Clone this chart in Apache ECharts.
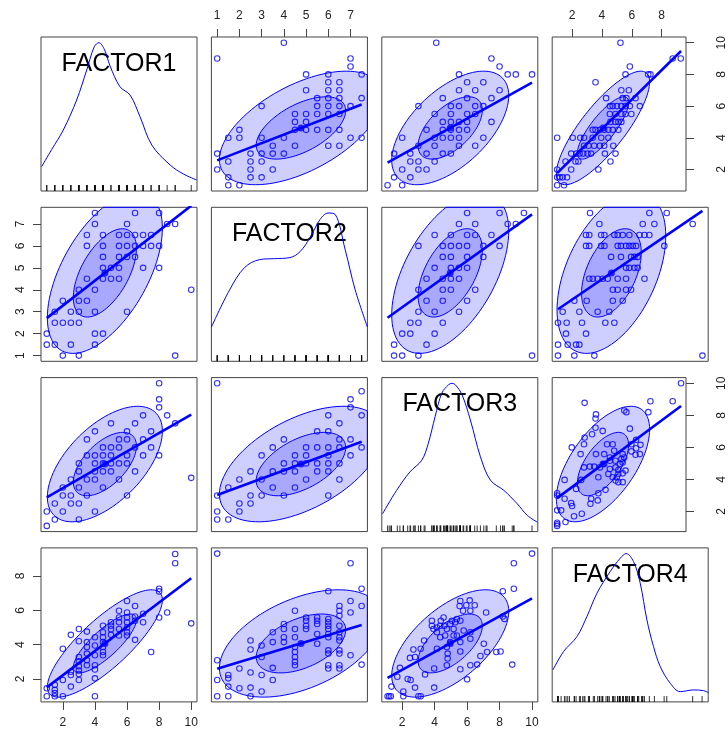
<!DOCTYPE html>
<html><head><meta charset="utf-8">
<script src="https://cdn.jsdelivr.net/npm/echarts@6/dist/echarts.min.js"></script>
<style>html,body{margin:0;padding:0;background:#fff}#c{width:728px;height:736px}</style>
</head><body><div id="c"></div>
<script>
// ---------------- data ----------------
const varNames = ['FACTOR1', 'FACTOR2', 'FACTOR3', 'FACTOR4'];
const varMin = [1, 1, 1.1, 1];
const varMax = [10, 7.5, 10, 9.3];
const varMean = [4.62, 4.77, 4.96, 4.07];
const varSd = [1.67, 1.71, 1.68, 1.456];
// correlations: 1-2, 1-3, 1-4, 2-3, 2-4, 3-4
const corrPairs = [[0, 1], [0, 2], [0, 3], [1, 2], [1, 3], [2, 3]];
const corrValues = [0.556, 0.57, 0.81, 0.52, 0.46, 0.60];
const ellipseLevels = [0.5, 0.9];

const ticks1 = [2, 4, 6, 8, 10];
const ticks2 = [1, 2, 3, 4, 5, 6, 7];
const ticks3 = [2, 4, 6, 8, 10];
const ticks4 = [2, 4, 6, 8];

// density curves (relative height, peak = 1)
const dens1X = [0.68, 1.3, 2.03, 2.86, 3.49, 3.96, 4.25, 4.6, 4.94, 5.56, 6.19, 6.81, 7.54, 8.68, 9.5, 10.34];
const dens1Y = [0.131, 0.25, 0.388, 0.598, 0.809, 0.972, 1.0, 0.95, 0.838, 0.691, 0.633, 0.481, 0.283, 0.143, 0.08, 0.037];
const dens2X = [0.74, 1.56, 2.23, 2.91, 3.59, 4.27, 4.73, 5.18, 5.63, 5.99, 6.31, 6.76, 7.21, 7.76];
const dens2Y = [0.20, 0.461, 0.617, 0.673, 0.680, 0.687, 0.729, 0.828, 0.955, 1.0, 0.99, 0.743, 0.461, 0.20];
const dens3X = [0.79, 1.655, 2.48, 3.21, 3.61, 4.03, 4.445, 4.86, 5.06, 5.27, 5.685, 6.2, 6.82, 7.44, 8.265, 9.09, 9.715, 10.335];
const dens3Y = [0.085, 0.249, 0.379, 0.461, 0.579, 0.767, 0.932, 0.99, 1.0, 0.99, 0.92, 0.743, 0.485, 0.32, 0.249, 0.155, 0.073, 0.026];
const dens4X = [0.71, 1.32, 2.09, 2.66, 3.24, 4.0, 4.58, 4.92, 5.34, 5.725, 6.11, 6.49, 6.875, 7.45, 8.02, 8.79, 9.36, 9.65];
const dens4Y = [0.184, 0.313, 0.418, 0.558, 0.722, 0.874, 0.968, 1.0, 0.944, 0.793, 0.535, 0.348, 0.208, 0.091, 0.032, 0.044, 0.039, 0.025];

// pairwise observations [first var, second var]
const pts12 = [[4,7.5],[6.5,7.5],[8,7.5],[4,7],[6,7],[8.5,7],[9,7],
[3.5,6.5],[4.5,6.5],[5.5,6.5],[6,6.5],[6.5,6.5],[7,6.5],[7.5,6.5],
[3.5,6],[4.5,6],[5.5,6],[6,6],[6.5,6],[7,6],[7.5,6],[8,6],
[4.5,5.5],[5.5,5.5],[6,5.5],[6.5,5.5],
[4.5,5],[5,5],[5.5,5],[7,5],[8,5],
[3.5,4.5],[4.5,4.5],[5,4.5],[5.5,4.5],
[3,4],[4,4],[10,4],
[2,3.5],[3,3.5],[3.5,3.5],
[1.5,3],[2.5,3],[3,3],[4,3],[6,3],
[1.5,2.5],[2,2.5],[2.5,2.5],[3,2.5],
[1,2],[4,2],[4.5,2],
[1,1.5],[1.5,1.5],[2.5,1.5],[4,1.5],
[2,1],[3,1],[9,1]];

const pts13 = [[1,1.1],[1,2.0],[1.5,1.5],[1.5,2.5],[2,2.0],[2,3.0],[2,3.5],[2.5,2.5],[2.5,3.0],[2.5,4.0],
[3,1.5],[3,2.5],[3,3.5],[3,4.5],[3,5.0],[3.5,3.0],[3.5,4.0],[3.5,5.5],[3.5,6.5],[4,2.0],[4,4.0],[4,4.5],
[4,5.0],[4,5.5],[4,7.0],[4.5,3.5],[4.5,4.5],[4.5,5.0],[4.5,5.5],[4.5,6.0],[5,4.5],[5,5.0],[5,5.5],[5,6.0],
[5,7.5],[5.5,4.0],[5.5,5.0],[5.5,6.0],[5.5,6.5],[6,3.0],[6,5.0],[6,5.5],[6,6.5],[6,7.0],[6.5,4.5],[6.5,6.0],
[6.5,7.5],[7,5.5],[7,6.5],[7,8.0],[7.5,6.0],[7.5,7.0],[8,5.5],[8,8.5],[8,9.0],[8,10],[8.5,8.0],[9,7.5],[10,4.1]];

const pts14 = [[9,9.28],[9,8.74],[8,7.25],[8,7.1],[6,6.54],[8.5,5.87],[8,5.58],[10,5.24],[7.5,3.57],[5.5,5.97],
[6.5,6.25],[7,5.8],[7,5.3],[6.5,5.64],[6.5,5.39],[6,5.87],[6,5.58],[6,5.3],[6,5.0],[6,4.72],[6,4.53],[6.5,4.28],
[5.5,5.58],[5.5,5.3],[5.5,4.91],[5.5,4.53],[5,5.3],[5,5.1],[5,4.9],[5,4.57],[4.5,5.1],[4.5,4.72],[4.5,4.43],
[4.5,4.15],[4.5,3.86],[4.5,3.57],[4.5,3.38],[4,4.43],[4,3.95],[4,3.38],[4,2.8],[4,2.55],[4,2.04],[4,1.0],
[3.5,4.76],[3.5,4.15],[3.5,3.86],[3.5,3.48],[3.5,3.1],[3.5,2.8],[3,4.91],[3,4.2],[3,3.28],[3,3.03],[3,2.75],
[3,2.5],[3,2.29],[3,1.94],[2.5,4.57],[2.5,2.42],[2.5,2.23],[2.5,1.56],[2,3.76],[2,1.94],[2,1.0],[1.5,1.66],
[1.5,1.37],[1.5,1.18],[1.5,1.0],[1,1.46],[1,1.0]];

const pts23 = [[1,10],[1,2.0],[1,1.5],[1,3.0],[1.5,1.5],[1.5,3.5],[2,2.5],[2,2.0],[2,4.0],[2.5,2.5],[2.5,3.0],
[2.5,4.5],[3,3.0],[3,4.0],[3,5.5],[3.5,3.5],[3.5,4.5],[3.5,6.0],[4,3.0],[4,4.5],[4,5.0],[4,6.5],[4.5,3.5],
[4.5,4.5],[4.5,5.0],[4.5,5.5],[5,4.0],[5,5.0],[5,5.5],[5,6.0],[5.5,4.5],[5.5,5.0],[5.5,6.0],[5.5,7.0],[6,3.0],
[6,4.5],[6,5.0],[6,5.5],[6,6.0],[6,7.0],[6,8.0],[6.5,4.0],[6.5,5.0],[6.5,6.0],[6.5,6.5],[6.5,7.5],[7,5.5],
[7,6.5],[7,8.5],[7,9.0],[7.5,6.0],[7.5,8.0],[7.5,9.5]];

const pts24 = [[1,9.3],[7,8.74],[7.5,7.25],[7,6.54],[7,5.87],[7.5,6.25],[6,7.11],[6.5,6.25],[6.5,5.97],[6.5,5.68],
[6.5,5.1],[6.5,4.72],[6.5,4.43],[6.5,4.24],[6.5,3.67],[6.5,3.48],[6.5,2.8],[6.5,2.61],[7,3.38],[7.5,2.84],[6,5.49],
[6,5.3],[6,5.1],[6,4.91],[6,4.62],[6,4.43],[6,3.67],[6,3.48],[6,2.8],[6,2.61],[5.5,5.58],[5.5,5.39],[5.5,5.2],
[5.5,4.62],[5.5,4.05],[5,5.58],[5,5.39],[5,5.1],[5,4.91],[4.5,5.97],[4.5,4.91],[4.5,4.43],[4.5,3.86],[4.5,3.57],
[4.5,3.28],[4.5,3.0],[4.5,2.8],[4,5.2],[4,4.91],[4,4.43],[4,4.15],[3.5,4.72],[3.5,4.15],[3.5,2.65],[3.5,1.94],
[3,3.95],[3,3.28],[3,2.23],[3,1.27],[2.5,4.24],[2.5,3.72],[2.5,2.38],[2.5,1.5],[2.5,1.0],[2,2.61],[2,1.46],
[1.5,2.23],[1.5,2.04],[1.5,1.56],[1.5,1.0],[1,3.09],[1,1.94],[1,1.0]];

const pts34 = [[10,9.3],[8.88,8.74],[8.88,7.25],[8.2,7.11],[8.78,2.84],[8.2,5.64],[8.3,5.5],[7.8,3.57],[8.06,3.6],
[7.17,5.87],[7.23,3.57],[7.03,4.05],[6.82,3.34],[6.62,2.84],[6.2,2.8],[6.0,1.98],[6.16,6.58],[5.95,6.29],[6.47,6.29],
[6.2,5.97],[5.75,5.97],[5.58,4.15],[5.58,3.6],[5.58,2.57],[4.8,3.48],[4.8,3.19],[4.75,2.8],[3.97,2.61],[3.97,1.5],
[3.41,2.27],[3.14,1.0],[3.0,1.0],[2.79,1.5],[2.79,3.28],[2.69,3.72],[2.48,3.23],[2.34,2.0],[2.52,1.94],[2.07,1.27],
[2.07,1.0],[1.86,2.65],[1.7,2.13],[1.34,1.56],[1.1,1.0],[1.2,1.0],[1.3,1.0],[3.14,3.76],[3.35,4.24],[3.83,5.39],
[3.83,5.1],[3.93,4.91],[4.14,5.0],[4.34,5.1],[4.55,5.58],[4.38,5.39],[4.59,5.1],[4.75,4.91],[4.96,5.2],[5.06,5.39],
[5.17,4.91],[5.27,5.3],[5.37,5.49],[5.58,5.39],[5.17,4.53],[4.34,4.43],[4.65,4.53],[4.14,4.72],[4.96,4.15],
[5.37,4.53],[5.79,4.82],[6.2,4.34],[6.2,4.72],[4.75,3.86],[4.14,3.76],[5.54,6.25],[5.58,6.54]];

// ---------------- layout / helpers ----------------
const tickSets = [ticks1, ticks2, ticks3, ticks4];
const densX = [dens1X, dens2X, dens3X, dens4X];
const densY = [dens1Y, dens2Y, dens3Y, dens4Y];
const pairData = {'0-1': pts12, '0-2': pts13, '0-3': pts14, '1-2': pts23, '1-3': pts24, '2-3': pts34};
const rugSource = [[pts12, 0], [pts12, 1], [pts34, 0], [pts14, 1]];

const usr = varMin.map((mn, i) => { const e = (varMax[i] - mn) * 0.04; return [mn - e, varMax[i] + e]; });
const DENS_MIN = -0.04, DENS_MAX = 1.04;

function corrOf(i, j) {
  const a = Math.min(i, j), b = Math.max(i, j);
  const k = corrPairs.findIndex(p => p[0] === a && p[1] === b);
  return corrValues[k];
}
function pointsFor(xv, yv) {
  const a = Math.min(xv, yv), b = Math.max(xv, yv);
  const d = pairData[a + '-' + b];
  return xv === a ? d.map(p => [p[0], p[1]]) : d.map(p => [p[1], p[0]]);
}
function ellipse(mx, my, sx, sy, r, level) {
  const c = Math.sqrt(-2 * Math.log(1 - level));
  const phi = Math.acos(r), pts = [];
  for (let k = 0; k < 96; k++) {
    const t = 2 * Math.PI * k / 96;
    pts.push([mx + c * sx * Math.cos(t), my + c * sy * Math.cos(t - phi)]);
  }
  return pts;
}
function clipPoly(poly, x0, x1, y0, y1) {
  const edges = [
    [p => p[0] >= x0, (a, b) => { const t = (x0 - a[0]) / (b[0] - a[0]); return [x0, a[1] + t * (b[1] - a[1])]; }],
    [p => p[0] <= x1, (a, b) => { const t = (x1 - a[0]) / (b[0] - a[0]); return [x1, a[1] + t * (b[1] - a[1])]; }],
    [p => p[1] >= y0, (a, b) => { const t = (y0 - a[1]) / (b[1] - a[1]); return [a[0] + t * (b[0] - a[0]), y0]; }],
    [p => p[1] <= y1, (a, b) => { const t = (y1 - a[1]) / (b[1] - a[1]); return [a[0] + t * (b[0] - a[0]), y1]; }]
  ];
  let out = poly;
  for (const [inside, inter] of edges) {
    const inp = out; out = [];
    for (let k = 0; k < inp.length; k++) {
      const cur = inp[k], prev = inp[(k + inp.length - 1) % inp.length];
      if (inside(cur)) { if (!inside(prev)) out.push(inter(prev, cur)); out.push(cur); }
      else if (inside(prev)) out.push(inter(prev, cur));
    }
    if (!out.length) break;
  }
  return out;
}

const BLUE = '#0000ff';
const LBL = {fontSize: 12, color: '#222', fontFamily: 'Liberation Sans, Arial, sans-serif'};
const colLeft = c => 41 + c * 170.4;
const rowTop = r => 37 + r * 170.3;
const PW = 156, PH = 154;

const grids = [], xAxes = [], yAxes = [], series = [], graphics = [];
for (let r = 0; r < 4; r++) {
  for (let c = 0; c < 4; c++) {
    const g = r * 4 + c;
    grids.push({left: colLeft(c), top: rowTop(r), width: PW, height: PH, show: true,
      borderColor: '#444', borderWidth: 1, backgroundColor: 'rgba(0,0,0,0)'});
    const xa = {gridIndex: g, type: 'value', min: usr[c][0], max: usr[c][1], splitLine: {show: false},
      axisLine: {show: false}, axisTick: {show: false}, axisLabel: {show: false}};
    const diag = r === c;
    const ya = {gridIndex: g, type: 'value', min: diag ? DENS_MIN : usr[r][0], max: diag ? DENS_MAX : usr[r][1],
      splitLine: {show: false}, axisLine: {show: false}, axisTick: {show: false}, axisLabel: {show: false}};
    if (r === 3 && c % 2 === 0) {
      xa.position = 'bottom';
      xa.axisTick = {show: true, length: 8, customValues: tickSets[c], lineStyle: {color: '#444'}};
      xa.axisLabel = Object.assign({show: true, customValues: tickSets[c], margin: 15}, LBL);
    }
    if (r === 0 && c % 2 === 1) {
      xa.position = 'top';
      xa.axisTick = {show: true, length: 8, customValues: tickSets[c], lineStyle: {color: '#444'}};
      xa.axisLabel = Object.assign({show: true, customValues: tickSets[c], margin: 15}, LBL);
    }
    if (c === 0 && r % 2 === 1) {
      ya.position = 'left';
      ya.axisTick = {show: true, length: 8, customValues: tickSets[r], lineStyle: {color: '#444'}};
      ya.axisLabel = Object.assign({show: true, customValues: tickSets[r], margin: 14, rotate: 90}, LBL);
    }
    if (c === 3 && r % 2 === 0) {
      ya.position = 'right';
      ya.axisTick = {show: true, length: 8, customValues: tickSets[r], lineStyle: {color: '#444'}};
      ya.axisLabel = Object.assign({show: true, customValues: tickSets[r], margin: 30, rotate: 90}, LBL);
    }
    xAxes.push(xa); yAxes.push(ya);

    if (diag) {
      series.push({type: 'line', xAxisIndex: g, yAxisIndex: g, showSymbol: false, symbol: 'none', smooth: 0.35,
        lineStyle: {color: BLUE, width: 1}, data: densX[r].map((x, k) => [x, densY[r][k]]), z: 3});
      const [src, idx] = rugSource[r];
      series.push({type: 'scatter', xAxisIndex: g, yAxisIndex: g, clip: false, symbol: 'rect',
        symbolSize: [1, 6], symbolOffset: [0, -3], itemStyle: {color: '#000'},
        data: src.map(p => [p[idx], DENS_MIN]), z: 2});
      graphics.push({type: 'text', x: colLeft(c) + PW / 2, y: rowTop(r) + 27,
        style: {text: varNames[r], fill: '#000', font: '25px "Liberation Sans", Arial, sans-serif',
          textAlign: 'center', textVerticalAlign: 'middle'}});
      continue;
    }
    const xv = c, yv = r;
    const mx = varMean[xv], my = varMean[yv], sx = varSd[xv], sy = varSd[yv], rr = corrOf(xv, yv);
    const polys = ellipseLevels.map(lv => clipPoly(ellipse(mx, my, sx, sy, rr, lv), usr[xv][0], usr[xv][1], usr[yv][0], usr[yv][1]));
    series.push({type: 'custom', xAxisIndex: g, yAxisIndex: g, silent: true, clip: false, z: 1,
      data: [[mx, my]],
      renderItem: (params, api) => ({type: 'group', children: polys.map(poly => ({
        type: 'polygon', shape: {points: poly.map(p => api.coord(p))},
        style: {fill: 'rgba(0,0,255,0.19)', stroke: BLUE, lineWidth: 1}}))})});
    series.push({type: 'scatter', xAxisIndex: g, yAxisIndex: g, symbol: 'circle', symbolSize: 5.5, z: 3,
      itemStyle: {color: 'rgba(0,0,0,0)', borderColor: BLUE, borderWidth: 1.1},
      data: pointsFor(xv, yv)});
    const slope = rr * sy / sx;
    series.push({type: 'line', xAxisIndex: g, yAxisIndex: g, symbol: 'none', z: 4,
      lineStyle: {color: BLUE, width: 2.6},
      data: [[varMin[xv], my + slope * (varMin[xv] - mx)], [varMax[xv], my + slope * (varMax[xv] - mx)]]});
    series.push({type: 'scatter', xAxisIndex: g, yAxisIndex: g, symbol: 'circle', symbolSize: 7, z: 5,
      itemStyle: {color: BLUE}, data: [[mx, my]]});
  }
}

const chart = echarts.init(document.getElementById('c'), null, {renderer: 'canvas'});
chart.setOption({animation: false, backgroundColor: '#fff', grid: grids, xAxis: xAxes, yAxis: yAxes,
  series: series, graphic: graphics});
</script></body></html>
